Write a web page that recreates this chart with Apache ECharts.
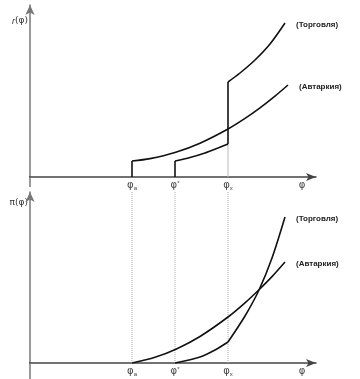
<!DOCTYPE html>
<html><head><meta charset="utf-8">
<script src="https://cdn.jsdelivr.net/npm/echarts@6/dist/echarts.min.js"></script>
<style>html,body{margin:0;padding:0;background:#fff}#c{width:360px;height:379px}</style>
</head><body><div id="c"></div>
<script>
// cutoff productivities (x units)
const cutoffs = [10.2, 14.5, 19.8];
const cutoffLabels = ['{p|φ}{sub|a}', '{p|φ}{sup|*}', '{p|φ}{sub|x}'];
const axisEndX = 27.2;
const seriesNames = ['(Торговля)', '(Автаркия)'];

// top panel r(φ)
const rAutVert = [[10.2, 0], [10.2, 1.6]];
const rAut = [[10.2, 1.6], [12, 1.84], [14.5, 2.45], [17, 3.38], [19.8, 4.8], [21.5, 5.86], [23, 6.92], [24.5, 8.09], [25.8, 9.2]];
const rTradeVert1 = [[14.5, 0], [14.5, 1.6]];
const rTradeDom = [[14.5, 1.6], [16, 1.95], [17.5, 2.4], [18.8, 2.9], [19.8, 3.3]];
const rTradeJump = [[19.8, 3.3], [19.8, 9.5]];
const rTradeExp = [[19.8, 9.5], [21, 10.4], [22.5, 11.7], [24, 13.3], [25.5, 15.4]];
const rGuide = [[19.8, 0], [19.8, 3.3]];

// bottom panel π(φ)
const piAut = [[10.2, 0], [12.5, 0.57], [14.7, 1.43], [17, 2.65], [19.8, 4.6], [21.5, 6.02], [22.9, 7.33], [24.2, 8.64], [25.5, 10.1]];
const piTradeDom = [[14.5, 0], [17, 0.6], [18.5, 1.3], [19.8, 2.1]];
const piTradeExp = [[19.8, 2.1], [21.5, 4.7], [22.9, 7.3], [24.2, 10.5], [25.5, 14.6]];

const topYMax = 17.2, botYMax = 17.1;
const xMin = 0, xMax = 28.6, xLeftExt = -3;

const chart = echarts.init(document.getElementById('c'), null, {renderer: 'canvas'});

const labelRich = {
  p: {fontSize: 10, fontFamily: 'DejaVu Sans', color: '#444'},
  sub: {fontSize: 6, fontFamily: 'Arial', color: '#444', padding: [5, 0, 0, 0]},
  sup: {fontSize: 6, fontFamily: 'Arial', color: '#444', padding: [0, 0, 5, 0]}
};
const xAxisColor = '#444', yAxisColor = '#777';
function xAxisDef(gi) {
  return {
    type: 'value', gridIndex: gi, min: xMin, max: xMax,
    splitLine: {show: false}, axisTick: {show: false},
    axisLine: {onZero: false, symbol: ['none', 'arrow'], symbolSize: [6, 10], lineStyle: {color: xAxisColor, width: 1.5}},
    axisLabel: {
      customValues: cutoffs.concat([axisEndX]), margin: 3,
      formatter: v => {
        const i = cutoffs.indexOf(v);
        return i >= 0 ? cutoffLabels[i] : '{p|φ}';
      },
      rich: labelRich
    }
  };
}
function yAxisDef(gi, max, lv, txt) {
  return {
    type: 'value', gridIndex: gi, min: 0, max: max,
    splitLine: {show: false}, axisTick: {show: false},
    axisLine: {onZero: false, symbol: ['none', 'arrow'], symbolSize: [7, 10], lineStyle: {color: yAxisColor, width: 1.5}},
    axisLabel: {customValues: [lv], margin: 2, formatter: () => txt,
      rich: {i: {fontStyle: 'italic', fontSize: 9, fontFamily: 'Arial', color: '#333'},
             n: {fontSize: 9, fontFamily: 'DejaVu Sans', color: '#333'}}}
  };
}
function ln(data, gi, opts) {
  opts = opts || {};
  const s = {
    type: 'line', xAxisIndex: gi, yAxisIndex: gi, data: data, symbol: 'none',
    smooth: opts.smooth ? 0.3 : false, silent: true, animation: false, clip: opts.clip !== false,
    lineStyle: opts.lineStyle || {color: '#111', width: 1.6}, z: opts.z || 3
  };
  if (opts.label) {
    s.endLabel = {show: true, formatter: opts.label, distance: 11, offset: [0, 2],
      fontWeight: 'bold', fontSize: 8, fontFamily: 'Arial', color: '#222'};
  }
  return s;
}
const dotted = {color: '#aaa', width: 1, type: [1, 1]};
const series = [
  // axis extensions outside the grids
  ln([[xLeftExt, 0], [0, 0]], 0, {clip: false, lineStyle: {color: xAxisColor, width: 1.5}, z: 2}),
  ln([[0, -1], [0, 0]], 0, {clip: false, lineStyle: {color: yAxisColor, width: 1.5}, z: 2}),
  ln([[xLeftExt, 0], [0, 0]], 1, {clip: false, lineStyle: {color: xAxisColor, width: 1.5}, z: 2}),
  ln([[0, -1.6], [0, 0]], 1, {clip: false, lineStyle: {color: yAxisColor, width: 1.5}, z: 2}),
  ln(rGuide, 0, {lineStyle: {color: '#bbb', width: 1}, z: 1}),
  ln(rAutVert, 0), ln(rAut, 0, {smooth: true, label: seriesNames[1]}),
  ln(rTradeVert1, 0), ln(rTradeDom, 0, {smooth: true}), ln(rTradeJump, 0),
  ln(rTradeExp, 0, {smooth: true, label: seriesNames[0]}),
  ln(piAut, 1, {smooth: true, label: seriesNames[1]}),
  ln(piTradeDom, 1, {smooth: true}),
  ln(piTradeExp, 1, {smooth: true, label: seriesNames[0]})
];
cutoffs.forEach(c => series.push(ln([[c, 0], [c, botYMax]], 1, {lineStyle: dotted, z: 1})));

chart.setOption({
  animation: false,
  grid: [{left: 30, right: 44, top: 5, height: 172, containLabel: false, outerBoundsMode: 'none'},
         {left: 30, right: 44, top: 192, height: 171, containLabel: false, outerBoundsMode: 'none'}],
  xAxis: [xAxisDef(0), xAxisDef(1)],
  yAxis: [yAxisDef(0, topYMax, 15.6, '{i|r}{n|(φ)}'), yAxisDef(1, botYMax, 16.0, '{n|π(φ)}')],
  series: series
});
</script></body></html>
